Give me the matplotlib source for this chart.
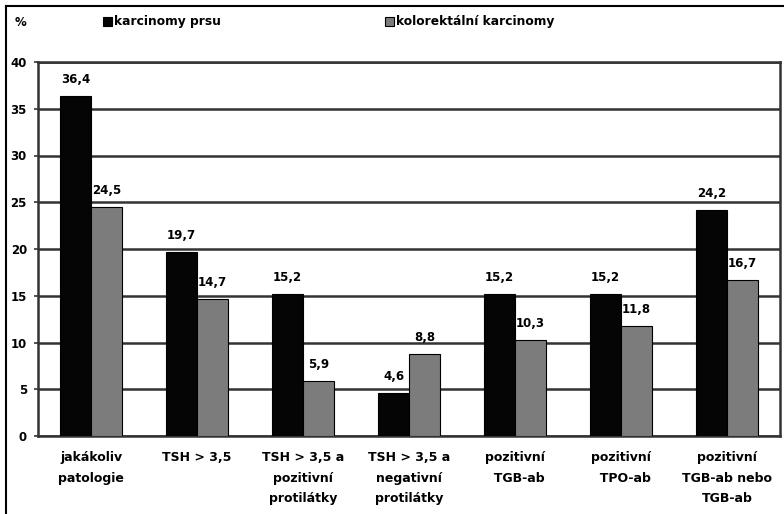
import numpy as np
import matplotlib
matplotlib.use('Agg')
from matplotlib import pyplot as plt
from matplotlib.patches import Rectangle
from matplotlib.lines import Line2D

#____________________________
# Data
categories = ['jakákoliv\npatologie', 'TSH > 3,5', 'TSH > 3,5 a\npozitivní\nprotilátky',
              'TSH > 3,5 a\nnegativní\nprotilátky', 'pozitivní\n  TGB-ab', 'pozitivní\n  TPO-ab',
              'pozitivní\nTGB-ab nebo\nTGB-ab']
breast = [36.4, 19.7, 15.2, 4.6, 15.2, 15.2, 24.2]
colorectal = [24.5, 14.7, 5.9, 8.8, 10.3, 11.8, 16.7]
series_names = ['karcinomy prsu', 'kolorektální karcinomy']
yticks = [0, 5, 10, 15, 20, 25, 30, 35, 40]

BLACK = '#050505'
GRAY = '#7c7c7c'
LINE = '#333333'

fig = plt.figure(figsize=(7.84, 5.14), dpi=100)
ax = fig.add_axes([38/784, 1 - 436/514, (780-38)/784, (436-62)/514])

x = np.arange(len(categories))
w = 0.29
ax.bar(x - w/2, breast, width=w, color=BLACK, edgecolor='black', linewidth=0.8, zorder=3)
ax.bar(x + w/2, colorectal, width=w, color=GRAY, edgecolor='black', linewidth=0.8, zorder=3)

# value labels
for xi, v in zip(x - w/2, breast):
    ax.annotate(str(v).replace('.', ','), (xi, v), xytext=(0, 7), textcoords='offset points',
                ha='center', va='bottom', fontsize=8.5, fontweight='bold')
for xi, v in zip(x + w/2, colorectal):
    ax.annotate(str(v).replace('.', ','), (xi, v), xytext=(0, 7), textcoords='offset points',
                ha='center', va='bottom', fontsize=8.5, fontweight='bold')

ax.set_xlim(-0.5, len(categories) - 0.5)
ax.set_ylim(0, 40)
ax.set_yticks(yticks)
ax.set_yticklabels([str(t) for t in yticks], fontsize=8.5, fontweight='bold')
ax.set_xticks(x)
ax.set_xticklabels(categories, fontsize=9, fontweight='bold', linespacing=1.75)
ax.tick_params(axis='x', length=0, pad=11)
ax.tick_params(axis='y', length=3, width=1.2, color=LINE, pad=5)
ax.yaxis.grid(True, color=LINE, linewidth=1.8, zorder=1)
ax.set_axisbelow(True)
for s in ax.spines.values():
    s.set_color(LINE)
    s.set_linewidth(1.8)

# legend and % label on top
fig.text(15/784, 1 - 22/514, '%', fontsize=8.5, fontweight='bold', va='center', ha='left')
for px, col, name in [(103, BLACK, series_names[0]), (385, GRAY, series_names[1])]:
    fig.patches.append(Rectangle((px/784, 1 - 26/514), 9/784, 9/514, transform=fig.transFigure,
                                 facecolor=col, edgecolor='black', linewidth=0.8))
    fig.text((px + 11)/784, 1 - 21.5/514, name, fontsize=8.8, fontweight='bold', va='center', ha='left')

# outer frame (left and top edge)
fig.lines.append(Line2D([6/784, 6/784], [0, 1 - 6/514], transform=fig.transFigure, color='black', linewidth=1.5))
fig.lines.append(Line2D([6/784, 1], [1 - 6/514, 1 - 6/514], transform=fig.transFigure, color='black', linewidth=1.5))

plt.savefig('out.png', dpi=100)
